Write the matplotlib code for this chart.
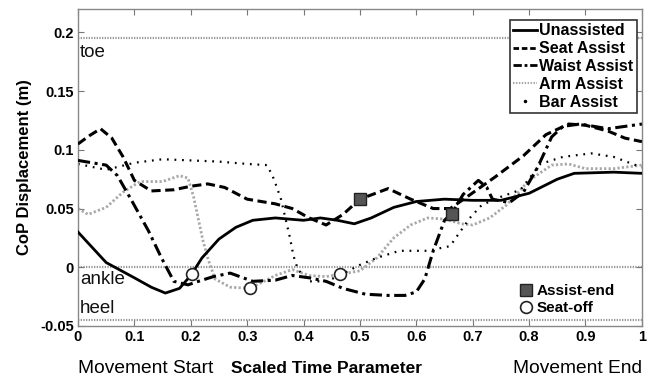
import matplotlib.pyplot as plt
from matplotlib.lines import Line2D

plt.rcParams['font.family'] = ['Liberation Sans', 'DejaVu Sans']

# ------------------------------------------------------------------
# data
# ------------------------------------------------------------------
unassisted_x = [0, 0.05, 0.1, 0.13, 0.155, 0.18, 0.2, 0.22, 0.25, 0.28, 0.31, 0.35,
                0.4, 0.43, 0.46, 0.49, 0.52, 0.56, 0.6, 0.65, 0.7, 0.75, 0.8, 0.85,
                0.88, 0.95, 1.0]
unassisted_y = [0.030, 0.004, -0.009, -0.017, -0.022, -0.018, -0.007, 0.008, 0.024, 0.034,
                0.040, 0.042, 0.040, 0.042, 0.040, 0.037, 0.042, 0.051, 0.056, 0.058,
                0.057, 0.057, 0.063, 0.075, 0.080, 0.081, 0.080]

seat_x = [0, 0.02, 0.04, 0.06, 0.08, 0.1, 0.13, 0.17, 0.2, 0.23, 0.26, 0.3, 0.35, 0.38,
          0.41, 0.44, 0.47, 0.5, 0.55, 0.59, 0.63, 0.66, 0.69, 0.74, 0.79, 0.83, 0.87,
          0.9, 0.94, 0.97, 1.0]
seat_y = [0.105, 0.112, 0.118, 0.110, 0.094, 0.074, 0.065, 0.066, 0.069, 0.071, 0.068,
          0.058, 0.054, 0.050, 0.042, 0.036, 0.045, 0.058, 0.067, 0.058, 0.050, 0.050,
          0.060, 0.077, 0.095, 0.113, 0.122, 0.121, 0.116, 0.110, 0.107]

waist_x = [0, 0.05, 0.07, 0.095, 0.125, 0.148, 0.17, 0.195, 0.22, 0.24, 0.27, 0.31, 0.35,
           0.38, 0.41, 0.44, 0.47, 0.51, 0.55, 0.58, 0.6, 0.615, 0.63, 0.65, 0.663, 0.683,
           0.71, 0.725, 0.735, 0.765, 0.79, 0.815, 0.84, 0.86, 0.89, 0.94, 1.0]
waist_y = [0.091, 0.087, 0.078, 0.057, 0.031, 0.008, -0.012, -0.015, -0.011, -0.008,
           -0.005, -0.012, -0.011, -0.007, -0.009, -0.012, -0.018, -0.023, -0.024,
           -0.024, -0.021, -0.010, 0.014, 0.040, 0.046, 0.062, 0.074, 0.068, 0.058,
           0.055, 0.064, 0.085, 0.111, 0.120, 0.122, 0.118, 0.122]

arm_x = [0, 0.018, 0.05, 0.08, 0.11, 0.15, 0.18, 0.195, 0.205, 0.213, 0.222, 0.23, 0.243,
         0.27, 0.305, 0.33, 0.35, 0.38, 0.41, 0.44, 0.465, 0.5, 0.53, 0.56, 0.59, 0.62,
         0.65, 0.68, 0.70, 0.73, 0.76, 0.8, 0.84, 0.87, 0.9, 0.95, 1.0]
arm_y = [0.050, 0.045, 0.051, 0.064, 0.073, 0.073, 0.078, 0.076, 0.060, 0.042, 0.022,
         0.008, -0.010, -0.017, -0.018, -0.012, -0.007, -0.002, -0.007, -0.008, -0.006,
         -0.003, 0.008, 0.025, 0.036, 0.042, 0.041, 0.037, 0.036, 0.042, 0.053, 0.074,
         0.087, 0.088, 0.084, 0.084, 0.087]

bar_x = [0, 0.03, 0.05, 0.1, 0.15, 0.2, 0.25, 0.3, 0.335, 0.345, 0.352, 0.36, 0.376,
         0.382, 0.39, 0.4, 0.41, 0.44, 0.465, 0.48, 0.5, 0.53, 0.57, 0.62, 0.66, 0.67,
         0.695, 0.716, 0.75, 0.785, 0.82, 0.86, 0.91, 0.95, 1.0]
bar_y = [0.088, 0.085, 0.083, 0.089, 0.092, 0.091, 0.090, 0.088, 0.087, 0.078, 0.069,
         0.058, 0.025, 0.010, -0.002, -0.007, -0.012, -0.012, -0.007, -0.003, 0.002,
         0.008, 0.014, 0.014, 0.018, 0.025, 0.042, 0.053, 0.060, 0.066, 0.088, 0.094,
         0.097, 0.094, 0.085]

assist_end_x = [0.5, 0.663]
assist_end_y = [0.058, 0.045]
seat_off_x = [0.203, 0.305, 0.465]
seat_off_y = [-0.006, -0.018, -0.006]

# foot landmarks (horizontal reference lines)
landmark_names = ["toe", "ankle", "heel"]
landmark_y = [0.195, 0.0, -0.045]
landmark_text_y = [0.190, -0.003, -0.028]

# ------------------------------------------------------------------
# figure
# ------------------------------------------------------------------
fig = plt.figure(figsize=(6.58, 3.83), dpi=100)
ax = fig.add_axes([0.1185, 0.149, 0.857, 0.8275])

for y in landmark_y:
    ax.axhline(y, color="#999999", lw=1.6, ls=(0, (0.6, 0.6)), zorder=1)
for name, ty in zip(landmark_names, landmark_text_y):
    ax.text(0.004, ty, name, fontsize=13.5, va="top", ha="left", color="#111111")

ax.plot(unassisted_x, unassisted_y, color="black", lw=2, zorder=3)
ax.plot(seat_x, seat_y, color="black", lw=2.2, ls=(0, (3, 1.5)), zorder=3)
ax.plot(waist_x, waist_y, color="black", lw=2.2, ls=(0, (4, 1.5, 1, 1.5)), zorder=3)
ax.plot(arm_x, arm_y, color="#a8a8a8", lw=2, ls=(0, (0.8, 0.8)), zorder=2)
ax.plot(bar_x, bar_y, color="black", lw=1.6, ls=(0, (0.8, 2.6)), zorder=2)

ax.plot(assist_end_x, assist_end_y, "s", ms=8.5, mfc="#555555", mec="#222222", mew=1, zorder=5)
ax.plot(seat_off_x, seat_off_y, "o", ms=8.5, mfc="white", mec="#222222", mew=1.2, zorder=5)

ax.set_xlim(0, 1)
ax.set_ylim(-0.05, 0.22)
ax.set_xticks([0, 0.1, 0.2, 0.3, 0.4, 0.5, 0.6, 0.7, 0.8, 0.9, 1])
ax.set_xticklabels(["0", "0.1", "0.2", "0.3", "0.4", "0.5", "0.6", "0.7", "0.8", "0.9", "1"])
ax.set_yticks([-0.05, 0, 0.05, 0.1, 0.15, 0.2])
ax.set_yticklabels(["-0.05", "0", "0.05", "0.1", "0.15", "0.2"])
ax.tick_params(direction="in", length=4, width=0.8, color="#777777",
               top=True, right=True, labelsize=10.5, pad=3)
for lbl in ax.get_xticklabels() + ax.get_yticklabels():
    lbl.set_fontweight("bold")
for sp in ax.spines.values():
    sp.set_color("#888888")
    sp.set_linewidth(1)

ax.set_ylabel("CoP Displacement (m)", fontsize=12, fontweight="bold", labelpad=6)

# x-axis captions row
ax.text(0.0, -0.135, "Movement Start", transform=ax.transAxes, fontsize=13.8,
        ha="left", va="center")
ax.text(0.44, -0.135, "Scaled Time Parameter", transform=ax.transAxes, fontsize=12.5,
        fontweight="bold", ha="center", va="center")
ax.text(1.0, -0.135, "Movement End", transform=ax.transAxes, fontsize=13.8,
        ha="right", va="center")

# legend for the series
handles = [
    Line2D([], [], color="black", lw=2),
    Line2D([], [], color="black", lw=2, ls=(0, (2, 1))),
    Line2D([], [], color="black", lw=2, ls=(0, (3, 1, 1, 1))),
    Line2D([], [], color="#a8a8a8", lw=1.5, ls=(0, (0.7, 0.7))),
    Line2D([], [], color="black", ls="none", marker=".", ms=3),
]
labels = ["Unassisted", "Seat Assist", "Waist Assist", "Arm Assist", "Bar Assist"]
leg = ax.legend(handles, labels, loc="upper right", bbox_to_anchor=(0.991, 0.965),
                prop={"weight": "bold", "size": 11.5}, handlelength=1.5, handletextpad=0.15,
                labelspacing=0.18, borderpad=0.2, borderaxespad=0, fancybox=False,
                framealpha=1, edgecolor="#333333")
leg.get_frame().set_linewidth(1.2)
ax.add_artist(leg)

# legend for the event markers
ev_handles = [
    Line2D([], [], ls="none", marker="s", ms=8.5, mfc="#555555", mec="#222222"),
    Line2D([], [], ls="none", marker="o", ms=8.5, mfc="white", mec="#222222", mew=1.2),
]
ax.legend(ev_handles, ["Assist-end", "Seat-off"], loc="lower left",
          bbox_to_anchor=(0.765, 0.0), frameon=False, handlelength=0.8,
          handletextpad=0.3, labelspacing=0.2, borderpad=0.2,
          prop={"weight": "bold", "size": 11})

fig.savefig("out.png", dpi=100)
